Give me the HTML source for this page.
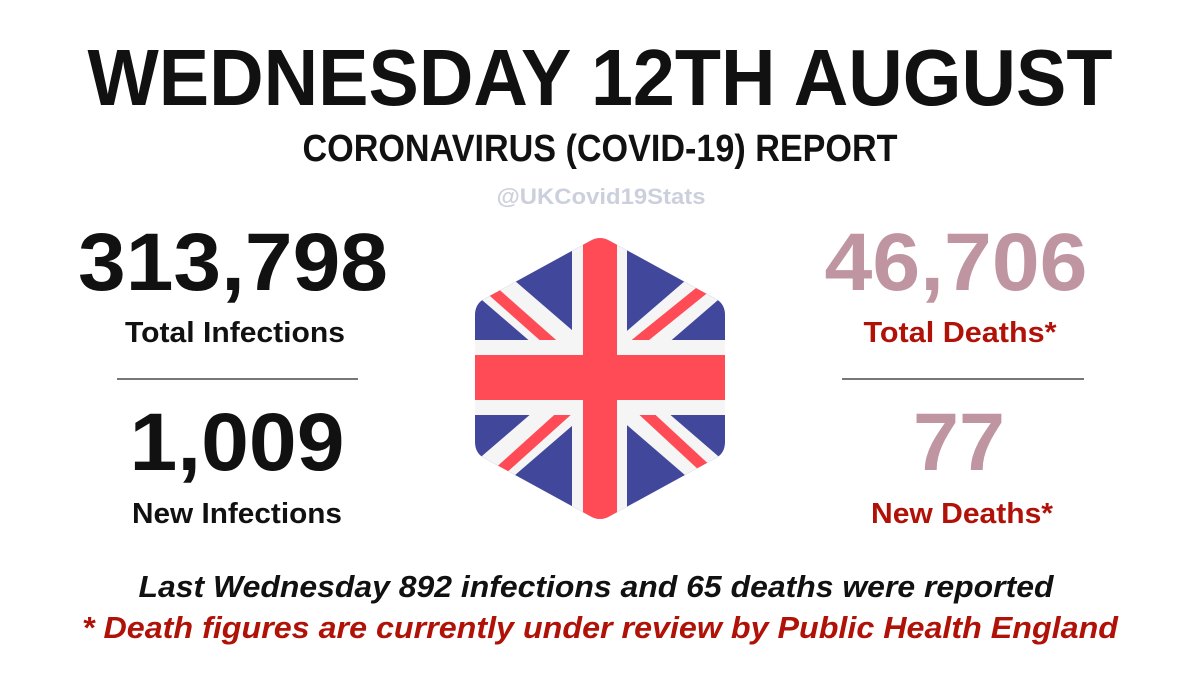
<!DOCTYPE html>
<html><head><meta charset="utf-8"><style>
html,body{margin:0;padding:0;background:#fff;}
svg{display:block;}
text{font-family:"Liberation Sans",sans-serif;font-weight:bold;}
</style></head><body>
<svg width="1200" height="675" viewBox="0 0 1200 675">
<rect x="0" y="0" width="1200" height="675" fill="#fff"/>
<text x="600" y="105" text-anchor="middle" font-size="80" textLength="1025" lengthAdjust="spacingAndGlyphs" fill="#111">WEDNESDAY 12TH AUGUST</text>
<text x="600" y="161" text-anchor="middle" font-size="38" textLength="595" lengthAdjust="spacingAndGlyphs" fill="#111">CORONAVIRUS (COVID-19) REPORT</text>
<text x="601" y="204" text-anchor="middle" font-size="22" textLength="209" lengthAdjust="spacingAndGlyphs" fill="#ccd0dc">@UKCovid19Stats</text>

<text x="233" y="290" text-anchor="middle" font-size="82" textLength="310" lengthAdjust="spacingAndGlyphs" fill="#111">313,798</text>
<text x="235" y="342" text-anchor="middle" font-size="29" textLength="220" lengthAdjust="spacingAndGlyphs" fill="#111">Total Infections</text>
<line x1="117" y1="379" x2="358" y2="379" stroke="#777" stroke-width="2"/>
<text x="237" y="470" text-anchor="middle" font-size="82" textLength="215" lengthAdjust="spacingAndGlyphs" fill="#111">1,009</text>
<text x="237" y="523" text-anchor="middle" font-size="29" textLength="210" lengthAdjust="spacingAndGlyphs" fill="#111">New Infections</text>

<text x="956" y="290" text-anchor="middle" font-size="82" textLength="263" lengthAdjust="spacingAndGlyphs" fill="#c095a2">46,706</text>
<text x="960" y="342" text-anchor="middle" font-size="29" textLength="193" lengthAdjust="spacingAndGlyphs" fill="#b01208">Total Deaths*</text>
<line x1="842" y1="379" x2="1084" y2="379" stroke="#777" stroke-width="2"/>
<text x="959" y="470" text-anchor="middle" font-size="82" textLength="92" lengthAdjust="spacingAndGlyphs" fill="#c095a2">77</text>
<text x="962" y="523" text-anchor="middle" font-size="29" textLength="182" lengthAdjust="spacingAndGlyphs" fill="#b01208">New Deaths*</text>

<defs>
<clipPath id="hex"><path d="M590,241 Q600,235 610,241 L716,299 Q725,304 725,315 L725,442 Q725,453 716,458 L610,516 Q600,522 590,516 L484,458 Q475,453 475,442 L475,315 Q475,304 484,299 Z"/></clipPath>
</defs>
<g clip-path="url(#hex)">
<rect x="470" y="230" width="260" height="295" fill="#41479b"/>
<g stroke="#f5f5f5" stroke-width="36">
<line x1="600" y1="378" x2="440" y2="240"/><line x1="600" y1="378" x2="760" y2="240"/>
<line x1="600" y1="378" x2="440" y2="516"/><line x1="600" y1="378" x2="760" y2="516"/>
</g>
<g stroke="#ff4b55" stroke-width="11">
<line x1="470" y1="271" x2="558" y2="349"/>
<line x1="742" y1="258" x2="628" y2="350"/>
<line x1="468" y1="500" x2="568" y2="410"/>
<line x1="735" y1="496" x2="640" y2="408"/>
</g>
<rect x="572" y="230" width="55" height="295" fill="#f5f5f5"/>
<rect x="470" y="340" width="260" height="75" fill="#f5f5f5"/>
<rect x="583" y="230" width="34" height="295" fill="#ff4b55"/>
<rect x="470" y="355" width="260" height="45" fill="#ff4b55"/>
</g>

<text x="596" y="597" text-anchor="middle" font-size="31" font-style="italic" textLength="915" lengthAdjust="spacingAndGlyphs" fill="#111">Last Wednesday 892 infections and 65 deaths were reported</text>
<text x="600" y="638" text-anchor="middle" font-size="31" font-style="italic" textLength="1036" lengthAdjust="spacingAndGlyphs" fill="#b01208">* Death figures are currently under review by Public Health England</text>
</svg>
</body></html>
